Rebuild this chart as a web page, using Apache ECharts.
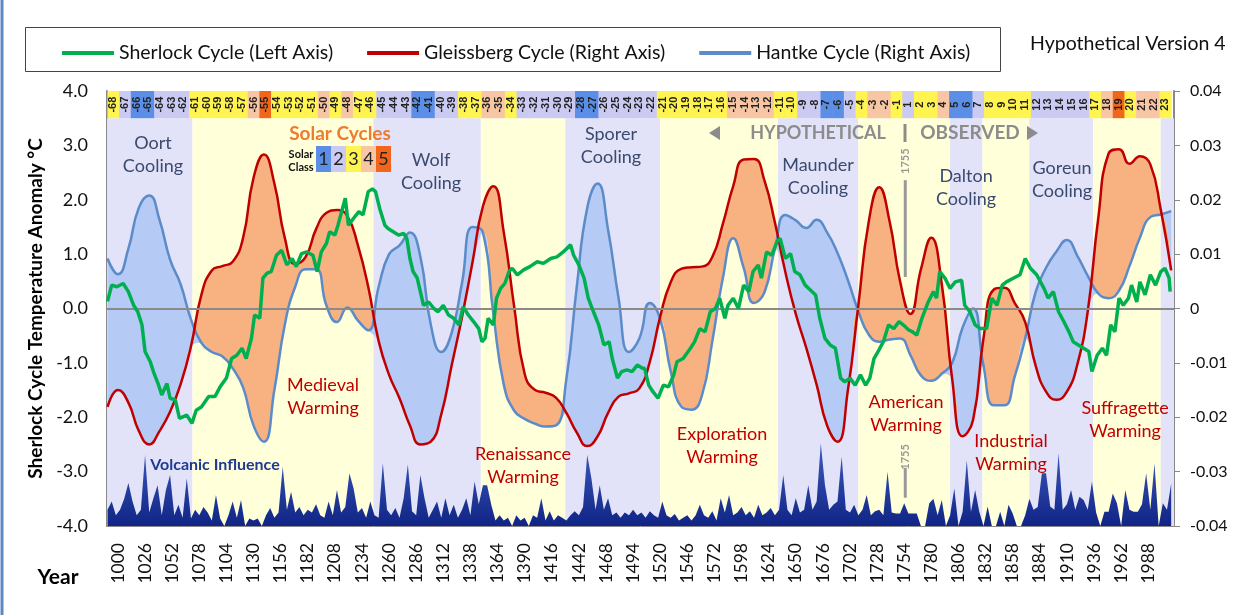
<!DOCTYPE html>
<html>
<head>
<meta charset="UTF-8">
<title>Sherlock Cycle - Hypothetical Version 4</title>
<script src="https://cdn.jsdelivr.net/npm/echarts@6/dist/echarts.min.js"></script>
<style>
  html, body { margin: 0; padding: 0; background: #fff; }
  #main { width: 1252px; height: 615px; }
</style>
</head>
<body>
<div id="main"></div>
<script>
// ---- data ----
var xTickLabels = [1000,1026,1052,1078,1104,1130,1156,1182,1208,1234,1260,1286,1312,1338,1364,1390,1416,1442,1468,1494,
  1520,1546,1572,1598,1624,1650,1676,1702,1728,1754,1780,1806,1832,1858,1884,1910,1936,1962,1988];

// years of the Gleissberg / Hantke samples
var cycleYears = [990,1000,1010,1020,1030,1040,1050,1060,1070,1080,1090,1100,1110,1120,1130,1140,1150,1160,1170,1180,
  1190,1200,1210,1220,1230,1240,1250,1260,1270,1280,1290,1300,1310,1320,1330,1340,1350,1360,1370,1380,
  1390,1400,1410,1420,1430,1440,1450,1460,1470,1480,1490,1500,1510,1520,1530,1540,1550,1560,1570,1580,
  1590,1600,1610,1620,1630,1640,1650,1660,1670,1680,1690,1700,1710,1720,1730,1740,1750,1760,1770,1780,
  1790,1800,1810,1820,1830,1840,1850,1860,1870,1880,1890,1900,1910,1920,1930,1940,1950,1960,1970,1980,
  1990,2000,2010];

var gleissberg = [-0.0181,-0.0150,-0.0173,-0.0225,-0.0250,-0.0225,-0.0190,-0.0140,-0.0070,0.0025,
  0.0070,0.0078,0.0086,0.0130,0.0240,0.0283,0.0230,0.0130,0.0082,0.0095,
  0.0146,0.0176,0.0181,0.0170,0.0117,0.0040,-0.0060,-0.0122,-0.0165,-0.0215,
  -0.0250,-0.0245,-0.0195,-0.0105,-0.0015,0.0085,0.0188,0.0225,0.0140,0.0003,
  -0.0120,-0.0150,-0.0155,-0.0164,-0.0192,-0.0228,-0.0253,-0.0235,-0.0192,-0.0162,
  -0.0156,-0.0147,-0.0098,-0.0015,0.0048,0.0073,0.0076,0.0077,0.0095,0.0155,
  0.0225,0.0274,0.0275,0.0235,0.0158,0.0067,-0.0010,-0.0072,-0.0140,-0.0215,
  -0.0245,-0.0150,0.0006,0.0160,0.0223,0.0160,0.0050,-0.0010,0.0072,0.0130,
  0.0045,-0.0130,-0.0235,-0.0205,-0.0055,0.0035,0.0038,0.0010,-0.0025,-0.0105,
  -0.0153,-0.0168,-0.0153,-0.0103,-0.0005,0.0165,0.0285,0.0293,0.0266,0.0280,
  0.0265,0.0182,0.0070];

var hantke = [0.0092,0.0063,0.0110,0.0185,0.0208,0.0162,0.0090,0.0045,-0.0020,-0.0063,
  -0.0080,-0.0088,-0.0110,-0.0145,-0.0215,-0.0245,-0.0150,-0.0030,0.0040,0.0072,
  0.0072,0.0005,-0.0025,0.0002,-0.0022,-0.0040,0.0040,0.0100,0.0116,0.0140,
  0.0095,-0.0030,-0.0080,-0.0045,0.0048,0.0150,0.0140,-0.0010,-0.0140,-0.0188,
  -0.0203,-0.0212,-0.0217,-0.0215,-0.0130,0.0040,0.0185,0.0230,0.0145,0.0020,
  -0.0080,-0.0055,0.0010,-0.0020,-0.0115,-0.0180,-0.0186,-0.0160,-0.0060,0.0055,
  0.0129,0.0075,0.0010,0.0030,0.0110,0.0172,0.0162,0.0148,0.0163,0.0140,
  0.0102,0.0052,-0.0005,-0.0048,-0.0061,-0.0057,-0.0055,-0.0086,-0.0123,-0.0133,
  -0.0120,-0.0100,-0.0035,0.0000,-0.0105,-0.0178,-0.0178,-0.0125,-0.0055,0.0030,
  0.0075,0.0105,0.0126,0.0097,0.0060,0.0028,0.0019,0.0033,0.0078,0.0130,
  0.0168,0.0173,0.0179];

// Sherlock cycle [year, °C]
var sherlock = [[990,0.13],[994,0.43],[999,0.40],[1005,0.46],[1010,0.31],[1015,0.06],[1019,-0.06],[1023,-0.30],[1026,-0.79],
  [1031,-0.98],[1034,-1.16],[1039,-1.41],[1042,-1.59],[1047,-1.38],[1050,-1.65],[1055,-1.68],[1059,-2.02],[1066,-1.96],
  [1071,-2.11],[1075,-1.87],[1080,-1.81],[1087,-1.62],[1093,-1.62],[1098,-1.44],[1104,-1.28],[1109,-0.92],[1114,-0.86],
  [1119,-0.73],[1123,-0.92],[1128,-0.55],[1131,-0.12],[1136,-0.18],[1139,0.56],[1143,0.65],[1147,0.68],[1152,0.98],
  [1157,1.07],[1162,0.80],[1167,0.92],[1171,0.77],[1176,1.01],[1181,1.04],[1187,0.98],[1191,0.68],[1195,1.04],[1200,1.20],
  [1203,1.41],[1208,1.35],[1211,1.53],[1218,2.03],[1221,1.53],[1226,1.66],[1231,1.78],[1235,1.72],[1240,2.15],[1244,2.20],
  [1247,2.15],[1251,1.84],[1256,1.53],[1259,1.47],[1264,1.41],[1269,1.35],[1274,1.38],[1277,1.29],[1280,0.92],[1283,0.68],
  [1287,0.56],[1290,0.31],[1293,0.06],[1298,0.12],[1303,0.00],[1307,-0.06],[1312,0.06],[1317,-0.12],[1322,-0.18],
  [1327,-0.30],[1331,0.03],[1336,-0.12],[1341,-0.24],[1346,-0.37],[1349,-0.61],[1352,-0.55],[1355,-0.18],[1360,-0.30],
  [1363,0.19],[1367,0.37],[1371,0.46],[1375,0.68],[1378,0.74],[1383,0.62],[1389,0.71],[1395,0.77],[1402,0.86],[1408,0.83],
  [1415,0.92],[1421,0.95],[1427,1.04],[1434,1.17],[1437,0.98],[1442,0.80],[1447,0.56],[1451,0.19],[1456,-0.06],
  [1461,-0.30],[1466,-0.67],[1471,-0.61],[1474,-0.92],[1479,-1.28],[1483,-1.16],[1488,-1.13],[1493,-1.16],[1498,-1.04],
  [1503,-1.10],[1505,-1.10],[1509,-1.41],[1513,-1.53],[1518,-1.65],[1523,-1.41],[1528,-1.44],[1533,-1.22],[1536,-0.98],
  [1542,-0.92],[1549,-0.73],[1553,-0.61],[1558,-0.37],[1563,-0.43],[1568,-0.06],[1573,0.00],[1577,0.19],[1582,-0.18],
  [1585,0.06],[1590,0.19],[1595,0.00],[1600,0.43],[1605,0.31],[1609,0.68],[1614,0.80],[1617,0.56],[1622,1.04],[1627,0.98],
  [1632,1.23],[1635,1.29],[1640,0.92],[1645,1.01],[1649,0.68],[1654,0.62],[1659,0.43],[1664,0.34],[1669,0.25],
  [1673,-0.18],[1678,-0.55],[1683,-0.67],[1688,-0.73],[1693,-1.28],[1697,-1.35],[1702,-1.28],[1707,-1.41],[1712,-1.22],
  [1717,-1.41],[1721,-1.28],[1725,-0.92],[1729,-0.79],[1734,-0.61],[1739,-0.30],[1744,-0.37],[1749,-0.24],[1753,-0.30],
  [1758,-0.39],[1762,-0.43],[1766,-0.49],[1771,-0.18],[1777,0.12],[1782,0.31],[1785,0.19],[1788,0.68],[1793,0.56],
  [1798,0.37],[1803,0.49],[1809,0.52],[1812,0.06],[1817,-0.06],[1822,-0.30],[1827,-0.37],[1833,-0.37],[1838,0.19],
  [1843,0.06],[1848,0.43],[1852,0.49],[1859,0.56],[1865,0.62],[1870,0.92],[1875,0.74],[1881,0.62],[1888,0.37],
  [1892,0.19],[1897,0.31],[1902,-0.06],[1907,-0.24],[1912,-0.43],[1916,-0.61],[1921,-0.67],[1926,-0.73],[1931,-0.79],
  [1934,-1.16],[1939,-0.86],[1944,-0.73],[1948,-0.86],[1952,-0.30],[1956,-0.43],[1960,0.19],[1964,0.06],[1969,0.19],
  [1972,0.43],[1977,0.12],[1980,0.49],[1985,0.25],[1990,0.62],[1995,0.43],[2000,0.68],[2004,0.74],[2008,0.56],[2009,0.31]];

// volcanic spikes: height above the -4.0 floor, one value every 4 years from 990
var volcanicStartYear = 990;
var volcanicStep = 4;
var volcanicHeights = [
  0.3,0.45,0.2,0.3,0.5,0.79,0.45,0.2,0.3,1.31,
  0.25,0.51,0.75,0.2,0.66,0.94,0.2,0.39,0.15,0.88,
  0.14,0.3,0.2,0.35,0.25,0.1,0.57,0.14,0,0.2,
  0.45,0.15,0.48,0,0.14,0.1,0.14,0,0.2,0.33,
  0.15,0.25,1.09,0.3,0.63,0.25,0.35,0.2,0.3,0.25,
  0.4,0.2,0.15,0.45,0.2,0.66,0.25,0.35,0.97,0.69,
  0.25,0.33,0.15,0.45,0.2,0.15,1.16,0.3,0.2,0.33,
  0.15,0.51,1.13,0.27,0.2,0.94,0.51,0.15,0.3,0.45,
  0.15,0.51,0.2,0.39,0.15,0.3,0.51,0.2,0.82,0.4,
  0.75,0.75,0.39,0.1,0.2,0.1,0.15,0,0.2,0.1,
  0.15,0,0.2,0.15,0.51,0.1,0.27,0.1,0.2,0.15,
  0.1,0.2,0.27,0.2,0.35,1.31,0.88,0.3,0.75,0.3,
  0.51,0.2,0.25,0.15,0.25,0.2,0.3,0.2,0.25,0.15,
  0.27,0.2,0.15,0.45,0.2,0.15,0.22,0.1,0.15,0.2,
  0.1,0.2,0.39,0.2,0.15,0.27,0.1,0.51,0.25,0.57,
  0.2,0.25,0.35,0.2,0.27,0.15,0.39,0.2,0.25,0.33,
  0.2,0.3,0.94,0.3,0.2,0.51,0.25,0.3,0.75,0.3,
  0.45,1.52,0.75,0.3,0.39,0.45,1.28,0.3,0.25,0.39,
  0.2,0.3,0.57,0.2,0.27,0.3,0.2,1.0,0.25,0.23,
  0.23,0.42,0.23,0.23,0.23,0,0,0.42,0.5,0.2,
  0.48,0,0.2,0.69,0,0.26,1.21,0.26,0.66,0.26,
  0,0.36,0,0,0.26,0,0.39,0.23,0,0,
  0.2,0.5,0.3,0.35,0.97,0.97,0.36,0.3,1.34,0.3,
  0.4,0.66,0.3,0.54,0.48,0.3,0.82,0.25,0,0.26,
  0.26,0.6,0.42,0,0.66,0.3,0.26,0.26,0.4,0.97,
  0.3,1.15,0,0.42,0.3,0.78];

// solar cycles along the top strip
var solarCycles = [-68,-67,-66,-65,-64,-63,-62,-61,-60,-59,-58,-57,-56,-55,-54,-53,-52,-51,-50,-49,-48,-47,-46,-45,-44,-43,-42,-41,
  -40,-39,-38,-37,-36,-35,-34,-33,-32,-31,-30,-29,-28,-27,-26,-25,-24,-23,-22,-21,-20,-19,-18,-17,-16,-15,-14,-13,-12,-11,
  -10,-9,-8,-7,-6,-5,-4,-3,-2,-1,1,2,3,4,5,6,7,8,9,10,11,12,13,14,15,16,17,18,19,20,21,22,23];
var solarClass = [3,2,1,1,2,2,2,3,3,3,3,3,4,5,3,3,3,3,4,3,4,3,3,2,2,2,1,1,
  2,2,3,3,4,4,3,2,2,2,2,2,1,1,2,2,2,2,2,3,3,3,3,3,3,4,4,4,4,3,
  3,2,2,1,1,2,3,4,4,3,2,3,3,4,1,1,2,3,3,3,3,2,2,2,2,2,3,4,5,3,4,4,3];
var cycleFirstCenter = 995.5;   // year at the middle of cycle -68
var cycleLength = 11.21;        // years per cell

// climate periods (background bands)
var bandEdges = [989.5,1071.5,1245,1348,1429,1520,1633,1710,1798,1829,1874,1935,2000,2012.7];
var bandKinds = ['cool','warm','cool','warm','cool','warm','cool','warm','cool','warm','cool','warm','cool'];

// ---- layout / style ----
var FONT = 'Lato, "Noto Sans", sans-serif';
var classColors = ['#5B8EE6','#CACAF2','#FFF450','#F8C6A5','#F2661C'];
var bandColors = { cool: '#E2E2F8', warm: '#FFFFDA' };
var textColors = { cool: '#3A4A6E', warm: '#C00000', volc: '#1F3A8F' };
var annotations = [
  { text: 'Oort\nCooling', at: [1033.6, 2.83], kind: 'cool' },
  { text: 'Medieval\nWarming', at: [1196.6, -1.62], kind: 'warm' },
  { text: 'Wolf\nCooling', at: [1300.2, 2.52], kind: 'cool' },
  { text: 'Renaissance\nWarming', at: [1388.4, -2.89], kind: 'warm' },
  { text: 'Sporer\nCooling', at: [1472.8, 2.99], kind: 'cool' },
  { text: 'Exploration\nWarming', at: [1579.3, -2.53], kind: 'warm' },
  { text: 'Maunder\nCooling', at: [1671.3, 2.42], kind: 'cool' },
  { text: 'American\nWarming', at: [1755.7, -1.94], kind: 'warm' },
  { text: 'Dalton\nCooling', at: [1813.3, 2.23], kind: 'cool' },
  { text: 'Industrial\nWarming', at: [1856.4, -2.66], kind: 'warm' },
  { text: 'Goreun\nCooling', at: [1905.3, 2.37], kind: 'cool' },
  { text: 'Suffragette\nWarming', at: [1965.8, -2.05], kind: 'warm' },
  { text: 'Volcanic Influence', at: [1093, -2.88], kind: 'volc' }
];

// ---- build tables ----
// fill between the two right-axis curves: value first, year second (encode swaps them back)
var fillLow = [], fillOrange = [], fillBlue = [];
for (var i = 0; i < cycleYears.length; i++) {
  var r = gleissberg[i], b = hantke[i];
  fillLow.push([Math.min(r, b), cycleYears[i]]);
  fillOrange.push([Math.max(r - b, 0), cycleYears[i]]);
  fillBlue.push([Math.max(b - r, 0), cycleYears[i]]);
}
var volcanicData = volcanicHeights.map(function (h, k) {
  return [volcanicStartYear + k * volcanicStep, -4 + h];
});
var cycleData = solarCycles.map(function (n, k) {
  return [cycleFirstCenter + k * cycleLength, 3.75, solarClass[k], n];
});
var bandAreas = bandKinds.map(function (kind, k) {
  return [{ xAxis: bandEdges[k], yAxis: 3.5, itemStyle: { color: bandColors[kind] } },
          { xAxis: bandEdges[k + 1], yAxis: -4 }];
});

function renderCycle(params, api) {
  var c = api.value(0), cls = api.value(2), num = api.value(3);
  var p0 = api.coord([c - cycleLength / 2, 4]);
  var p1 = api.coord([c + cycleLength / 2, 3.5]);
  return {
    type: 'group',
    children: [
      { type: 'rect', shape: { x: p0[0], y: p0[1], width: p1[0] - p0[0] + 0.6, height: p1[1] - p0[1] },
        style: { fill: classColors[cls - 1] } },
      { type: 'text', x: (p0[0] + p1[0]) / 2, y: (p0[1] + p1[1]) / 2, rotation: Math.PI / 2,
        style: { text: String(num), align: 'center', verticalAlign: 'middle',
                 font: 'bold 11px "Liberation Sans", Arial, sans-serif', fill: '#222' } }
    ]
  };
}

function renderNote(params, api) {
  var a = annotations[params.dataIndex];
  var p = api.coord([api.value(0), api.value(1)]);
  var font = a.kind === 'volc' ? 'bold 16px ' + FONT : '18px ' + FONT;
  return { type: 'text', x: p[0], y: p[1],
    style: { text: a.text, font: font, fill: textColors[a.kind], align: 'center', verticalAlign: 'middle', lineHeight: 23 } };
}

var fillBase = { type: 'line', yAxisIndex: 1, smooth: true, symbol: 'none', stackStrategy: 'all',
  encode: { x: 1, y: 0 }, lineStyle: { opacity: 0 }, z: 2, silent: true };

var myChart = echarts.init(document.getElementById('main'));
var option = {
  animation: false,
  backgroundColor: '#fff',
  grid: { left: 107, right: 78, top: 91, bottom: 89, outerBoundsMode: 'none' },
  legend: {
    left: 57, top: 38, itemWidth: 52, itemHeight: 4, itemGap: 34, icon: 'rect',
    textStyle: { fontFamily: FONT, fontSize: 19.5, color: '#111' },
    data: ['Sherlock Cycle (Left Axis)', 'Gleissberg Cycle (Right Axis)', 'Hantke Cycle (Right Axis)']
  },
  xAxis: {
    type: 'value', min: 989.5, max: 2012.7,
    axisLine: { show: true, onZero: false, lineStyle: { color: '#888', width: 1 } },
    axisTick: { show: false },
    splitLine: { show: false },
    axisLabel: { customValues: xTickLabels, rotate: 90, margin: 17, color: '#111',
                 formatter: function (v) { return String(v); },
                 fontFamily: FONT, fontSize: 17.5 }
  },
  yAxis: [
    { type: 'value', min: -4, max: 4, interval: 1,
      name: 'Sherlock Cycle Temperature Anomaly \u00B0C', nameLocation: 'middle', nameGap: 56,
      nameTextStyle: { fontFamily: FONT, fontSize: 19, fontWeight: 'bold', color: '#000' },
      axisLine: { show: true, lineStyle: { color: '#888', width: 2 } },
      axisTick: { show: false }, splitLine: { show: false },
      axisLabel: { formatter: function (v) { return v.toFixed(1); }, margin: 19, color: '#111',
                   fontFamily: FONT, fontSize: 18 } },
    { type: 'value', min: -0.04, max: 0.04, interval: 0.01, position: 'right',
      axisLine: { show: true, lineStyle: { color: '#888', width: 2 } },
      axisTick: { show: true, length: 6, lineStyle: { color: '#888' } }, splitLine: { show: false },
      axisLabel: { formatter: function (v) { return Math.abs(v) < 1e-9 ? '0' : v.toFixed(2); }, margin: 16,
                   color: '#111', fontFamily: FONT, fontSize: 16 } }
  ],
  series: [
    { name: 'bands', type: 'line', data: [], z: 0, silent: true,
      markArea: { silent: true, data: bandAreas } },
    { name: 'solar', type: 'custom', renderItem: renderCycle, data: cycleData, z: 1, silent: true,
      encode: { x: 0, y: 1 } },
    Object.assign({}, fillBase, { name: 'lowO', stack: 'o', data: fillLow }),
    Object.assign({}, fillBase, { name: 'fillO', stack: 'o', data: fillOrange,
      areaStyle: { color: '#F8B282', opacity: 1 } }),
    Object.assign({}, fillBase, { name: 'lowB', stack: 'b', data: fillLow }),
    Object.assign({}, fillBase, { name: 'fillB', stack: 'b', data: fillBlue,
      areaStyle: { color: '#B6CAF6', opacity: 1 },
      markLine: { silent: true, symbol: 'none', label: { show: false },
                  lineStyle: { color: '#8A8A8A', width: 2, type: 'solid' }, data: [{ yAxis: 0 }] } }),
    { name: 'volcanic', type: 'line', data: volcanicData, symbol: 'none', z: 2, silent: true,
      lineStyle: { width: 0 },
      areaStyle: { origin: 'start', opacity: 1,
        color: new echarts.graphic.LinearGradient(0, 0, 0, 1, [
          { offset: 0, color: '#3F5CC0' }, { offset: 1, color: '#102585' }]) } },
    { name: 'Hantke Cycle (Right Axis)', type: 'line', yAxisIndex: 1, data: cycleYears.map(function (y, k) { return [y, hantke[k]]; }),
      smooth: true, symbol: 'none', color: '#5B8BC9', lineStyle: { width: 2.5 }, z: 3 },
    { name: 'Gleissberg Cycle (Right Axis)', type: 'line', yAxisIndex: 1, data: cycleYears.map(function (y, k) { return [y, gleissberg[k]]; }),
      smooth: true, symbol: 'none', color: '#C00000', lineStyle: { width: 2.5 }, z: 4 },
    { name: 'Sherlock Cycle (Left Axis)', type: 'line', data: sherlock, symbol: 'none',
      color: '#00B050', lineStyle: { width: 3.5 }, z: 5 },
    { name: 'notes', type: 'custom', renderItem: renderNote, z: 6, silent: true,
      data: annotations.map(function (a) { return a.at; }), encode: { x: 0, y: 1 } }
  ]
};
myChart.setOption(option);

// ---- annotations drawn on top ----
var sherlockIndex = option.series.length - 2;
function px(yr, v) { return myChart.convertToPixel({ seriesIndex: sherlockIndex }, [yr, v]); }
var gray = '#8C8C8C';
var up1 = px(1755, 2.71), up2 = px(1755, 2.36), up3 = px(1755, 0.58);
var lo1 = px(1755, -2.73), lo2 = px(1755, -2.93), lo3 = px(1755, -3.48);
var graphics = [
  { type: 'line', shape: { x1: 2, y1: 0, x2: 2, y2: 615 }, style: { stroke: '#5B87C5', lineWidth: 3 } },
  { type: 'rect', shape: { x: 25.5, y: 27.5, width: 975, height: 44 }, style: { fill: 'none', stroke: '#444', lineWidth: 1 } },
  { type: 'text', x: 1030, y: 44, style: { text: 'Hypothetical Version 4', font: '19.5px ' + FONT, fill: '#111', verticalAlign: 'middle' } },
  { type: 'text', x: 58, y: 577, style: { text: 'Year', font: 'bold 21px ' + FONT, fill: '#000', align: 'center', verticalAlign: 'middle' } },
  // solar class key
  { type: 'text', x: 340, y: 134, z: 10, style: { text: 'Solar Cycles', font: 'bold 19px ' + FONT, fill: '#EE7B30', align: 'center', verticalAlign: 'middle' } },
  { type: 'text', x: 301, y: 154, z: 10, style: { text: 'Solar', font: 'bold 11px ' + FONT, fill: '#111', align: 'center', verticalAlign: 'middle' } },
  { type: 'text', x: 301, y: 167, z: 10, style: { text: 'Class', font: 'bold 11px ' + FONT, fill: '#111', align: 'center', verticalAlign: 'middle' } },
  // hypothetical / observed
  { type: 'polygon', z: 10, shape: { points: [[709, 133], [720, 126], [720, 140]] }, style: { fill: gray } },
  { type: 'text', x: 818, y: 133, z: 10, style: { text: 'HYPOTHETICAL', font: 'bold 18px ' + FONT, fill: gray, align: 'center', verticalAlign: 'middle' } },
  { type: 'rect', z: 10, shape: { x: 903.5, y: 124, width: 3, height: 18 }, style: { fill: gray } },
  { type: 'text', x: 970, y: 133, z: 10, style: { text: 'OBSERVED', font: 'bold 19px ' + FONT, fill: gray, align: 'center', verticalAlign: 'middle' } },
  { type: 'polygon', z: 10, shape: { points: [[1038, 133], [1027, 126], [1027, 140]] }, style: { fill: gray } },
  // 1755 markers
  { type: 'text', x: up1[0], y: up1[1], rotation: Math.PI / 2, z: 10,
    style: { text: '1755', font: 'bold 11px ' + FONT, fill: '#999', align: 'center', verticalAlign: 'middle' } },
  { type: 'line', z: 10, shape: { x1: up2[0], y1: up2[1], x2: up3[0], y2: up3[1] }, style: { stroke: '#999', lineWidth: 3 } },
  { type: 'text', x: lo1[0], y: lo1[1], rotation: Math.PI / 2, z: 10,
    style: { text: '1755', font: 'bold 11px ' + FONT, fill: '#999', align: 'center', verticalAlign: 'middle' } },
  { type: 'line', z: 10, shape: { x1: lo2[0], y1: lo2[1], x2: lo3[0], y2: lo3[1] }, style: { stroke: '#999', lineWidth: 3 } }
];
for (var c = 0; c < 5; c++) {
  graphics.push({ type: 'rect', z: 10, shape: { x: 316 + c * 15, y: 146, width: 15, height: 26 }, style: { fill: classColors[c] } });
  graphics.push({ type: 'text', z: 11, x: 323.5 + c * 15, y: 159,
    style: { text: String(c + 1), font: '18px ' + FONT, fill: '#222', align: 'center', verticalAlign: 'middle' } });
}
myChart.setOption({ graphic: graphics });
</script>
</body>
</html>
